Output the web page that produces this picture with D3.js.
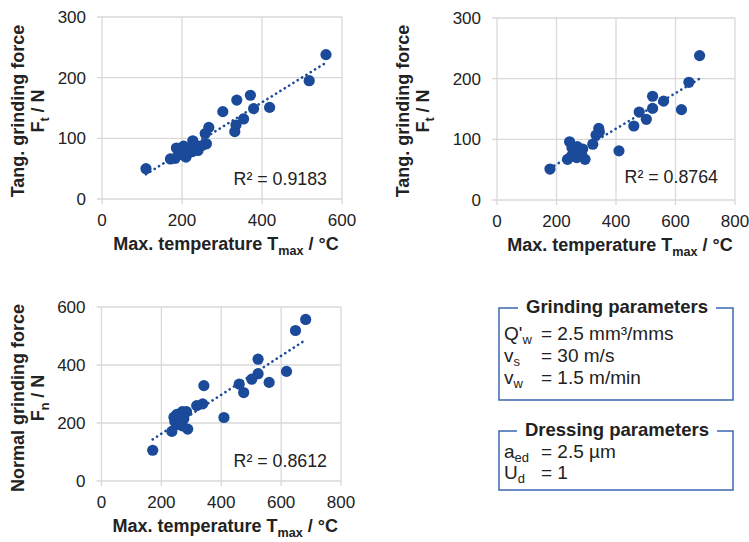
<!DOCTYPE html>
<html><head><meta charset="utf-8">
<script src="https://cdn.jsdelivr.net/npm/d3@7"></script>
<style>body{margin:0;background:#fff}svg{display:block;font-family:"Liberation Sans",Arial,sans-serif}</style>
</head><body>
<script>
// Plot 1: Ft vs Tmax
const p1Temp = [110,560,518,337,371,302,379,419,354,335,332,267,258,261,227,237,225,204,186,212,210,171,183,192,195,215,240,250,205,230];
const p1Force = [50,238,195,163,171,144,149,151,132,122,111,118,108,91,96,84,78,87,84,76,69,66,67,78,80,82,80,88,72,90];
// Plot 2: Ft vs Tmax
const p2Temp = [178,681,645,523,560,523,620,478,502,460,342,344,333,322,410,244,270,288,296,237,256,250,262,275,285,268,252];
const p2Force = [51,238,194,171,163,151,149,145,133,122,118,112,107,92,81,96,88,84,67,67,76,72,82,78,74,70,86];
// Plot 3: Fn vs Tmax
const p3Temp = [171,682,648,523,618,523,502,560,460,475,342,338,318,409,270,284,242,235,288,260,245,255,262,270,275,252,265];
const p3Force = [106,557,519,420,378,370,351,340,334,305,329,266,260,219,239,239,220,171,179,200,205,195,210,190,215,230,225];
const r2Labels = ["R² = 0.9183","R² = 0.8764","R² = 0.8612"];
const xTicks12 = [0,200,400,600], xTicks3 = [0,200,400,600,800];
const yTicksFt = [0,100,200,300], yTicksFn = [0,200,400,600];

const W=749,H=542, blue="#1a4a99", grid="#d9d9d9", txt="#222";
const svg=d3.select("body").append("svg").attr("width",W).attr("height",H);

function subText(sel, parts, size){
  parts.forEach(p=>{
    if(p.sub){ sel.append("tspan").attr("font-size",size*0.7).attr("dy",size*0.25).text(p.t); }
    else if(p.after){ sel.append("tspan").attr("dy",-size*0.25).text(p.t); }
    else sel.append("tspan").text(p.t);
  });
}

function plot(cfg){
  const x=d3.scaleLinear().domain(cfg.xd).range(cfg.xr);
  const y=d3.scaleLinear().domain(cfg.yd).range(cfg.yr);
  const g=svg.append("g");
  g.selectAll(".gx").data(cfg.xt.slice(1)).join("line")
    .attr("x1",d=>x(d)).attr("x2",d=>x(d)).attr("y1",cfg.yr[0]+5).attr("y2",cfg.yr[1])
    .attr("stroke",grid).attr("stroke-width",1.3);
  g.selectAll(".gy").data(cfg.yt.slice(1)).join("line")
    .attr("x1",cfg.xr[0]-5).attr("x2",cfg.xr[1]).attr("y1",d=>y(d)).attr("y2",d=>y(d))
    .attr("stroke",grid).attr("stroke-width",1.3);
  g.append("line").attr("x1",cfg.xr[0]).attr("x2",cfg.xr[0]).attr("y1",cfg.yr[0]+5).attr("y2",cfg.yr[1]).attr("stroke",grid).attr("stroke-width",1.3);
  g.append("line").attr("x1",cfg.xr[0]-5).attr("x2",cfg.xr[1]).attr("y1",cfg.yr[0]).attr("y2",cfg.yr[0]).attr("stroke",grid).attr("stroke-width",1.3);
  g.selectAll(".tx").data(cfg.xt).join("text").attr("x",d=>x(d)).attr("y",cfg.yr[0]+27)
    .attr("text-anchor","middle").attr("font-size",17).attr("fill",txt).text(d=>d);
  g.selectAll(".ty").data(cfg.yt).join("text").attr("x",cfg.xr[0]-16).attr("y",d=>y(d)+6)
    .attr("text-anchor","end").attr("font-size",17).attr("fill",txt).text(d=>d);
  // trend line (least squares)
  const mx=d3.mean(cfg.xs), my=d3.mean(cfg.ys);
  let sxy=0,sxx=0; cfg.xs.forEach((v,i)=>{sxy+=(v-mx)*(cfg.ys[i]-my);sxx+=(v-mx)*(v-mx);});
  const b=sxy/sxx, a=my-b*mx; const x0=d3.min(cfg.xs), x1=d3.max(cfg.xs);
  g.append("line").attr("x1",x(x0)).attr("y1",y(a+b*x0)).attr("x2",x(x1)).attr("y2",y(a+b*x1))
    .attr("stroke",blue).attr("stroke-width",2.6).attr("stroke-dasharray","0.1 5").attr("stroke-linecap","round");
  g.selectAll("circle").data(cfg.xs.map((v,i)=>[v,cfg.ys[i]])).join("circle")
    .attr("cx",d=>x(d[0])).attr("cy",d=>y(d[1])).attr("r",5.6).attr("fill",blue);
  g.append("text").attr("x",cfg.r2x).attr("y",cfg.r2y).attr("text-anchor","end").attr("font-size",17.8).attr("fill",txt).text(cfg.r2);
  const xt=g.append("text").attr("x",(cfg.xr[0]+cfg.xr[1])/2+4).attr("y",cfg.yr[0]+51).attr("text-anchor","middle")
    .attr("font-size",18).attr("font-weight","bold").attr("fill",txt);
  subText(xt,[{t:"Max. temperature T"},{t:"max",sub:true},{t:" / °C",after:true}],18);
  const yc=cfg.ytc;
  g.append("text").attr("transform",`translate(${cfg.ytx},${yc}) rotate(-90)`).attr("text-anchor","middle")
    .attr("font-size",18).attr("font-weight","bold").attr("fill",txt).text(cfg.ytitle);
  const t2=g.append("text").attr("transform",`translate(${cfg.ytx+20},${yc}) rotate(-90)`).attr("text-anchor","middle")
    .attr("font-size",18).attr("font-weight","bold").attr("fill",txt);
  subText(t2,[{t:"F"},{t:cfg.ysub,sub:true},{t:" / N",after:true}],18);
}

plot({xd:[0,600],xr:[102,342],yd:[0,300],yr:[199,17],xt:xTicks12,yt:yTicksFt,xs:p1Temp,ys:p1Force,
  r2:r2Labels[0],r2x:327,r2y:185,ytitle:"Tang. grinding force",ysub:"t",ytx:24,ytc:111});
plot({xd:[0,800],xr:[497,735],yd:[0,300],yr:[200,18],xt:xTicks3,yt:yTicksFt,xs:p2Temp,ys:p2Force,
  r2:r2Labels[1],r2x:718,r2y:183,ytitle:"Tang. grinding force",ysub:"t",ytx:409,ytc:111});
plot({xd:[0,800],xr:[101.5,341],yd:[0,600],yr:[481,307],xt:xTicks3,yt:yTicksFn,xs:p3Temp,ys:p3Force,
  r2:r2Labels[2],r2x:327,r2y:467,ytitle:"Normal grinding force",ysub:"n",ytx:24,ytc:398});

const grindLines=[{s:"Q'",sub:"w",v:"= 2.5 mm³/mms"},{s:"v",sub:"s",v:"= 30 m/s"},{s:"v",sub:"w",v:"= 1.5 m/min"}];
const dressLines=[{s:"a",sub:"ed",v:"= 2.5 µm"},{s:"U",sub:"d",v:"= 1"}];
function box(top,bottom,title,lines,first,step){
  const L=499,R=733,bc="#3a66b0";
  const g=svg.append("g");
  const t=g.append("text").attr("x",617).attr("y",top+5).attr("text-anchor","middle").attr("font-size",18.5)
    .attr("font-weight","bold").attr("fill",txt).text(title);
  const w=t.node().getComputedTextLength();
  g.append("path").attr("d",`M${617-w/2-8},${top}H${L}V${bottom}H${R}V${top}H${617+w/2+8}`)
    .attr("fill","none").attr("stroke",bc).attr("stroke-width",1.5);
  lines.forEach((l,i)=>{
    const yy=top+first+i*step;
    const tt=g.append("text").attr("x",504).attr("y",yy).attr("font-size",19).attr("fill",txt);
    tt.append("tspan").text(l.s);
    tt.append("tspan").attr("font-size",13).attr("dy",4).text(l.sub);
    g.append("text").attr("x",541).attr("y",yy).attr("font-size",19).attr("fill",txt).text(l.v);
  });
}
box(308,400,"Grinding parameters",grindLines,32,22);
box(431,490,"Dressing parameters",dressLines,27,20.5);
</script>
</body></html>
